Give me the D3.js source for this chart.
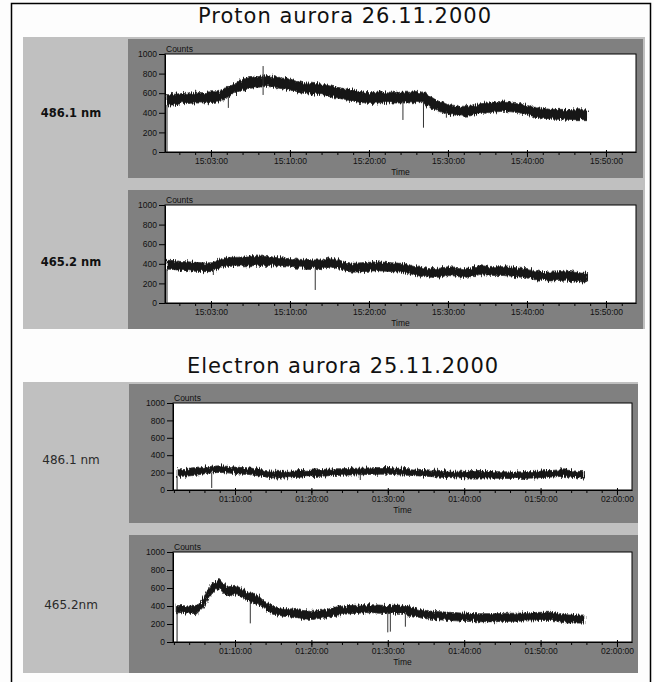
<!DOCTYPE html>
<html>
<head>
<meta charset="utf-8">
<script src="https://cdn.jsdelivr.net/npm/d3@7"></script>
<style>
  body { margin: 0; background: #fdfdfd; }
  svg { display: block; }
  text { font-family: "Liberation Sans", Arial, sans-serif; }
</style>
</head>
<body>
<svg id="chart" width="654" height="682"></svg>
<script>
// ---------- data ----------
const yTicks = [0, 200, 400, 600, 800, 1000];

const protonDomain = ["14:54:11", "15:53:48"];
const protonTicks = ["15:00", "15:10", "15:20", "15:30", "15:40", "15:50"];
const protonTickLabels = ["15:03:00", "15:10:00", "15:20:00", "15:30:00", "15:40:00", "15:50:00"];

const electronDomain = ["01:01:53", "02:01:58"];
const electronTicks = ["01:10", "01:20", "01:30", "01:40", "01:50", "02:00"];
const electronTickLabels = ["01:10:00", "01:20:00", "01:30:00", "01:40:00", "01:50:00", "02:00:00"];

// one sample per minute, starting at the "first" time; start/end = where the trace begins/ends
const protonRun = { start: "14:54:26", first: "14:55", end: "15:47:40" };
const electronRun = { start: "01:02:25", first: "01:03", end: "01:55:40" };

// Proton aurora, 486.1 nm : envelope of the noisy trace (counts)
const p4861Hi = [585,595,600,610,605,615,615,660,700,740,760,770,780,770,755,745,720,705,700,695,675,660,645,630,615,605,
                 610,615,610,610,610,620,610,555,510,485,475,465,470,490,500,510,520,510,500,480,455,445,435,435,435,430,430];
const p4861Lo = [480,490,495,500,500,505,510,555,595,630,650,660,670,660,645,635,610,595,590,585,565,550,535,520,505,495,
                 500,505,500,500,500,505,500,445,410,385,375,365,370,390,400,410,415,410,400,380,355,345,335,335,335,330,330];
const p4861Spikes = [["15:02:12", 450, 560], ["15:06:36", 582, 877], ["15:24:18", 327, 520], ["15:26:54", 248, 520], ["15:29:48", 350, 420]];

// Proton aurora, 465.2 nm
const p4652Hi = [435,425,420,415,410,410,445,465,465,470,470,480,475,470,460,455,445,445,440,440,460,445,415,405,410,415,
                 420,415,410,405,390,370,360,350,355,370,365,350,360,380,375,370,370,365,355,350,330,320,315,320,325,315,305];
const p4652Lo = [345,335,330,325,320,320,355,375,375,380,380,385,385,380,370,365,355,355,350,350,370,355,325,315,320,325,
                 330,325,320,315,300,280,270,260,265,280,275,260,270,290,285,280,280,275,265,260,240,230,225,230,235,225,215];
const p4652Spikes = [["15:00:18", 286, 340], ["15:13:12", 133, 360]];

// Electron aurora, 486.1 nm
const e4861Hi = [233,238,248,263,273,278,273,263,258,253,238,223,216,213,216,221,226,230,233,238,243,245,248,250,253,256,
                 258,258,253,248,243,238,233,228,223,218,216,215,213,213,213,211,210,208,208,210,213,218,223,228,233,223,213];
const e4861Lo = [157,162,172,187,197,202,197,187,182,177,162,147,140,137,140,145,150,154,157,162,167,169,172,174,177,180,
                 182,182,177,172,167,162,157,152,147,142,140,139,137,137,137,135,134,132,132,134,137,142,147,152,157,147,137];
const e4861Spikes = [["01:06:57", 23, 200], ["01:26:24", 115, 180]];

// Electron aurora, 465.2 nm
const e4652Hi = [405,400,395,500,650,700,610,630,590,545,515,440,400,380,370,360,350,340,350,360,385,395,405,410,415,415,
                 410,405,410,410,385,365,350,340,335,330,325,320,317,315,315,315,317,320,320,325,325,330,330,325,305,300,300];
const e4652Lo = [325,320,315,400,550,600,505,535,490,445,425,360,310,290,280,270,260,250,260,270,295,305,315,320,325,325,
                 320,315,320,320,295,275,260,250,245,240,235,230,227,225,225,225,227,230,230,235,235,240,240,235,215,210,210];
const e4652Spikes = [["01:12:00", 207, 450], ["01:30:00", 107, 330], ["01:30:20", 115, 330], ["01:32:18", 170, 330]];

// ---------- helpers ----------
const parseT = s => d3.timeParse(s.length > 5 ? "%H:%M:%S" : "%H:%M")(s);

function trace(run, lo, hi) {
  const t0 = parseT(run.first);
  const pts = lo.map((v, i) => ({ t: d3.timeMinute.offset(t0, i), lo: v, hi: hi[i] }));
  const n = lo.length - 1;
  return [{ t: parseT(run.start), lo: lo[0], hi: hi[0] }, ...pts, { t: parseT(run.end), lo: lo[n], hi: hi[n] }];
}

const svg = d3.select("#chart");

// rough edge for the noisy band (display style only)
const filt = svg.append("defs").append("filter").attr("id", "rough")
  .attr("x", "-2%").attr("y", "-40%").attr("width", "104%").attr("height", "180%");
filt.append("feTurbulence").attr("type", "fractalNoise").attr("baseFrequency", "0.9 0.08")
  .attr("numOctaves", 2).attr("seed", 3).attr("result", "n");
filt.append("feDisplacementMap").attr("in", "SourceGraphic").attr("in2", "n")
  .attr("scale", 7).attr("xChannelSelector", "A").attr("yChannelSelector", "G");

// outer frame + light grey blocks
svg.append("rect").attr("x", 11.5).attr("y", 3.5).attr("width", 639).attr("height", 700)
  .attr("fill", "#fdfdfd").attr("stroke", "#000").attr("stroke-width", 1.5);
svg.append("rect").attr("x", 23).attr("y", 37).attr("width", 622).attr("height", 292).attr("fill", "#c0c0c0");
svg.append("rect").attr("x", 23).attr("y", 382).attr("width", 615).attr("height", 291).attr("fill", "#c0c0c0");

const titleFont = '"DejaVu Sans", sans-serif';
svg.append("text").attr("x", 345).attr("y", 23).attr("text-anchor", "middle")
  .style("font-family", titleFont).style("font-size", "21px").style("letter-spacing", "1px").attr("fill", "#111")
  .text("Proton aurora 26.11.2000");
svg.append("text").attr("x", 343).attr("y", 373).attr("text-anchor", "middle")
  .style("font-family", titleFont).style("font-size", "21px").style("letter-spacing", "0.9px").attr("fill", "#111")
  .text("Electron aurora 25.11.2000");

const panels = [
  { label: "486.1 nm", bold: true, labelY: 117, dark: [128, 39, 515, 139], plot: [165, 636, 54, 152],
    domain: protonDomain, ticks: protonTicks, tickLabels: protonTickLabels,
    data: trace(protonRun, p4861Lo, p4861Hi), spikes: p4861Spikes },
  { label: "465.2 nm", bold: true, labelY: 266, dark: [128, 190, 515, 139], plot: [165, 636, 205, 303],
    domain: protonDomain, ticks: protonTicks, tickLabels: protonTickLabels,
    data: trace(protonRun, p4652Lo, p4652Hi), spikes: p4652Spikes },
  { label: "486.1 nm", bold: false, labelY: 464, dark: [129, 384, 509, 139], plot: [173, 632, 403, 490],
    domain: electronDomain, ticks: electronTicks, tickLabels: electronTickLabels,
    data: trace(electronRun, e4861Lo, e4861Hi), spikes: e4861Spikes },
  { label: "465.2nm", bold: false, labelY: 609, dark: [129, 535, 509, 138], plot: [173, 632, 552, 642],
    domain: electronDomain, ticks: electronTicks, tickLabels: electronTickLabels,
    data: trace(electronRun, e4652Lo, e4652Hi), spikes: e4652Spikes }
];

panels.forEach(p => {
  const [dx, dy, dw, dh] = p.dark;
  const [x0, x1, y0, y1] = p.plot;

  svg.append("rect").attr("x", dx).attr("y", dy).attr("width", dw).attr("height", dh).attr("fill", "#808080");

  svg.append("text").attr("x", 71).attr("y", p.labelY).attr("text-anchor", "middle")
    .style("font-family", '"DejaVu Sans", sans-serif')
    .style("font-size", p.bold ? "11.5px" : "12px")
    .style("font-weight", p.bold ? "bold" : "normal")
    .attr("fill", p.bold ? "#111" : "#2a2a2a")
    .text(p.label);

  svg.append("rect").attr("x", x0).attr("y", y0).attr("width", x1 - x0).attr("height", y1 - y0)
    .attr("fill", "#fff").attr("stroke", "#000").attr("stroke-width", 1);

  const x = d3.scaleTime().domain(p.domain.map(parseT)).range([x0, x1]);
  const y = d3.scaleLinear().domain([0, 1000]).range([y1, y0]);

  // y axis
  const ya = svg.append("g").attr("transform", `translate(${x0},0)`)
    .call(d3.axisLeft(y).tickValues(yTicks).tickFormat(d3.format("d")).tickSize(6).tickPadding(2).tickSizeOuter(0));
  ya.select(".domain").attr("stroke", "#000");
  ya.selectAll("line").attr("stroke", "#000");
  ya.selectAll("text").style("font-size", "8.5px").attr("fill", "#111");

  // x axis: minor ticks every 2 minutes, major every 10
  const minor = svg.append("g").attr("transform", `translate(0,${y1})`)
    .call(d3.axisBottom(x).ticks(d3.timeMinute.every(2)).tickSize(3).tickFormat("").tickSizeOuter(0));
  minor.select(".domain").attr("stroke", "#000");
  minor.selectAll("line").attr("stroke", "#000");

  const major = svg.append("g").attr("transform", `translate(0,${y1})`)
    .call(d3.axisBottom(x).tickValues(p.ticks.map(parseT)).tickSize(5).tickPadding(1)
      .tickFormat((d, i) => p.tickLabels[i]).tickSizeOuter(0));
  major.select(".domain").remove();
  major.selectAll("line").attr("stroke", "#000").attr("y1", -2);
  major.selectAll("text").style("font-size", "8.5px").attr("fill", "#111");

  svg.append("text").attr("x", x0 + 1).attr("y", y0 - 2).style("font-size", "8.5px").attr("fill", "#111").text("Counts");
  svg.append("text").attr("x", (x0 + x1) / 2).attr("y", y1 + 23).attr("text-anchor", "middle")
    .style("font-size", "8.5px").attr("fill", "#111").text("Time");

  // trace: noisy band drawn as its envelope
  svg.append("path").datum(p.data)
    .attr("d", d3.area().x(d => x(d.t)).y0(d => y(d.lo)).y1(d => y(d.hi)))
    .attr("fill", "#141414").attr("stroke", "#333").attr("stroke-width", 0.8)
    .attr("filter", "url(#rough)");

  // rise from zero at the start of the recording
  const s = p.data[0];
  svg.append("line").attr("x1", x(s.t)).attr("x2", x(s.t)).attr("y1", y(0)).attr("y2", y(s.lo))
    .attr("stroke", "#222").attr("stroke-width", 1);

  // isolated spikes
  svg.append("g").selectAll("line").data(p.spikes).join("line")
    .attr("x1", d => x(parseT(d[0]))).attr("x2", d => x(parseT(d[0])))
    .attr("y1", d => y(d[1])).attr("y2", d => y(d[2]))
    .attr("stroke", "#333").attr("stroke-width", 1);
});
</script>
</body>
</html>
